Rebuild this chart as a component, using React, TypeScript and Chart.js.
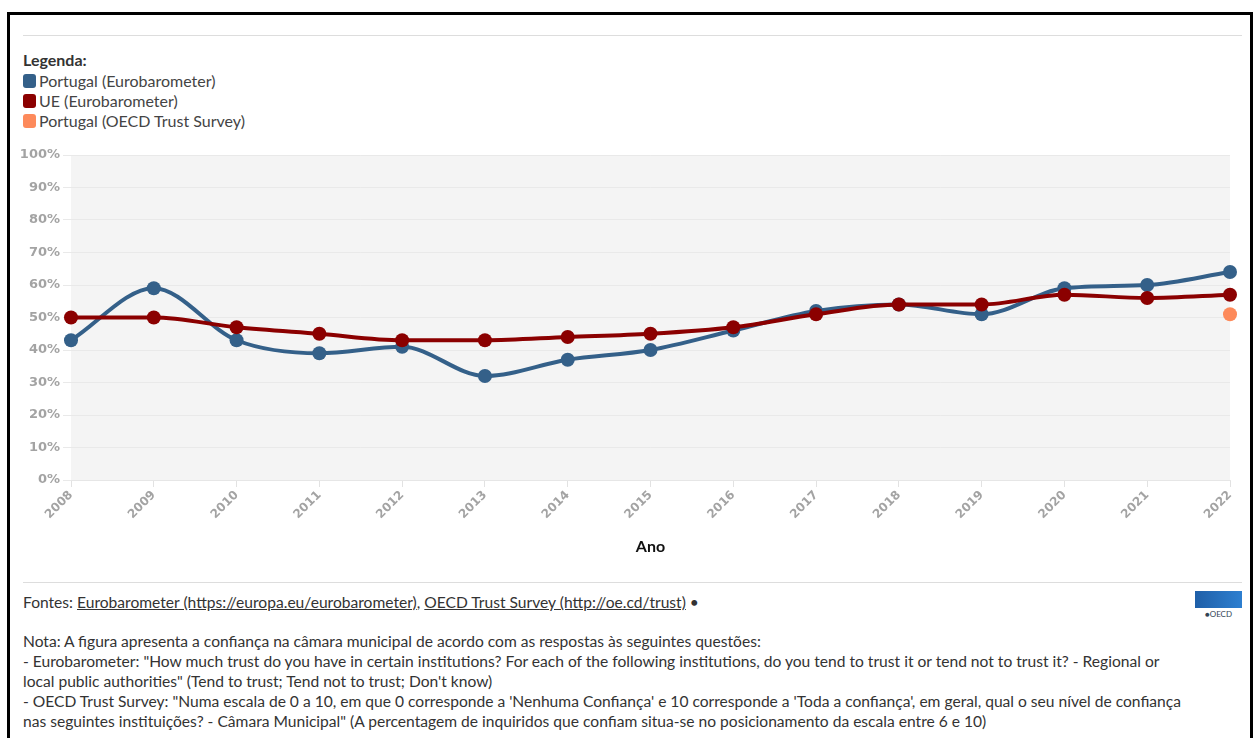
import React, { useEffect, useRef } from "react";
import { Chart, registerables } from "chart.js";

Chart.register(...registerables);

const years = ["2008","2009","2010","2011","2012","2013","2014","2015","2016","2017","2018","2019","2020","2021","2022"];
const portugalEuro = [43, 59, 43, 39, 41, 32, 37, 40, 46, 52, 54, 51, 59, 60, 64];
const ueEuro = [50, 50, 47, 45, 43, 43, 44, 45, 47, 51, 54, 54, 57, 56, 57];
const portugalOecd = [null, null, null, null, null, null, null, null, null, null, null, null, null, null, 51];
const yTicks = [0, 10, 20, 30, 40, 50, 60, 70, 80, 90, 100];

const BLUE = "#346089";
const RED = "#8b0000";
const ORANGE = "#fd8a5b";

const legendItems = [
  { label: "Portugal (Eurobarometer)", color: BLUE },
  { label: "UE (Eurobarometer)", color: RED },
  { label: "Portugal (OECD Trust Survey)", color: ORANGE },
];

const TEXT_FONT = "'Lato', 'Open Sans', sans-serif";

const plotBg = {
  id: "plotBg",
  beforeDraw(chart: any) {
    const { ctx, chartArea } = chart;
    ctx.save();
    ctx.fillStyle = "#f4f4f4";
    ctx.fillRect(chartArea.left, chartArea.top, chartArea.right - chartArea.left, chartArea.bottom - chartArea.top);
    ctx.restore();
  },
};

function LineChart() {
  const ref = useRef<HTMLCanvasElement | null>(null);
  useEffect(() => {
    if (!ref.current) return;
    const common = {
      borderWidth: 4,
      pointRadius: 7,
      pointHoverRadius: 7,
      pointBorderWidth: 0,
      cubicInterpolationMode: "monotone" as const,
      fill: false,
    };
    const chart = new Chart(ref.current, {
      type: "line",
      data: {
        labels: years,
        datasets: [
          { ...common, label: "UE (Eurobarometer)", data: ueEuro, borderColor: RED, backgroundColor: RED, pointBackgroundColor: RED, order: 1 },
          { ...common, label: "Portugal (Eurobarometer)", data: portugalEuro, borderColor: BLUE, backgroundColor: BLUE, pointBackgroundColor: BLUE, order: 2 },
          { ...common, label: "Portugal (OECD Trust Survey)", data: portugalOecd, borderColor: ORANGE, backgroundColor: ORANGE, pointBackgroundColor: ORANGE, order: 0 },
        ],
      },
      options: {
        animation: false,
        responsive: false,
        maintainAspectRatio: false,
        layout: { padding: { top: 15, right: 20, left: 0, bottom: 0 } },
        plugins: { legend: { display: false }, tooltip: { enabled: false } },
        scales: {
          x: {
            grid: { drawOnChartArea: false, drawTicks: true, tickLength: 7, color: "#e2e2e2" },
            border: { display: true, color: "#e6e6e6" },
            ticks: {
              autoSkip: false,
              maxRotation: 45,
              minRotation: 45,
              color: "#a3a3a3",
              font: { family: "'DejaVu Sans', sans-serif", weight: "bold", size: 12 },
              padding: 1,
            },
            title: {
              display: true,
              text: "Ano",
              color: "#111",
              font: { family: TEXT_FONT, weight: "bold", size: 16 },
              padding: { top: 4, bottom: 14 },
            },
            afterFit: (scale: any) => { scale.height = 90; },
          },
          y: {
            min: 0,
            max: 100,
            afterBuildTicks: (scale: any) => { scale.ticks = yTicks.map((v) => ({ value: v })); },
            grid: { color: "#e9e9e9", tickLength: 8, lineWidth: 1 },
            border: { display: false },
            ticks: {
              color: "#a3a3a3",
              padding: 3,
              font: { family: "'DejaVu Sans', sans-serif", weight: "bold", size: 13 },
              callback: (v: any) => v + "%",
            },
            afterFit: (scale: any) => { scale.width = 61; },
          },
        },
      },
      plugins: [plotBg],
    });
    return () => chart.destroy();
  }, []);
  return <canvas ref={ref} width={1240} height={430} style={{ position: "absolute", left: 10, top: 140, width: 1240, height: 430 }} />;
}

export default function App() {
  const txt: React.CSSProperties = { fontFamily: TEXT_FONT, fontSize: 15.6, color: "#333", whiteSpace: "nowrap" };
  return (
    <div style={{ position: "absolute", left: 0, top: 0, width: 1255, height: 738, overflow: "hidden", background: "#fff" }}>
      <div style={{ position: "absolute", left: 7, top: 12, width: 1240, height: 800, border: "3px solid #000" }} />
      <div style={{ position: "absolute", left: 23, top: 35, width: 1219, height: 1, background: "#dddddd" }} />
      <div style={{ position: "absolute", left: 23, top: 50, ...txt, fontSize: 16, lineHeight: "20px", color: "#444" }}>
        <div style={{ fontWeight: "bold", color: "#333", marginBottom: 1 }}>Legenda:</div>
        {legendItems.map((it) => (
          <div key={it.label} style={{ display: "flex", alignItems: "center" }}>
            <span style={{ display: "inline-block", width: 13, height: 14, borderRadius: 3, background: it.color, marginRight: 3 }} />
            <span>{it.label}</span>
          </div>
        ))}
      </div>
      <LineChart />
      <div style={{ position: "absolute", left: 23, top: 582, width: 1219, height: 1, background: "#dddddd" }} />
      <div style={{ position: "absolute", left: 23, top: 592, ...txt, lineHeight: "20px" }}>
        Fontes: <span style={{ textDecoration: "underline" }}>Eurobarometer (https://europa.eu/eurobarometer)</span>, <span style={{ textDecoration: "underline" }}>OECD Trust Survey (http://oe.cd/trust)</span> •
      </div>
      <div style={{ position: "absolute", left: 23, top: 631, ...txt, lineHeight: "20px" }}>
        <div>Nota: A figura apresenta a confiança na câmara municipal de acordo com as respostas às seguintes questões:</div>
        <div>- Eurobarometer: "How much trust do you have in certain institutions? For each of the following institutions, do you tend to trust it or tend not to trust it? - Regional or</div>
        <div>local public authorities" (Tend to trust; Tend not to trust; Don't know)</div>
        <div>- OECD Trust Survey: "Numa escala de 0 a 10, em que 0 corresponde a 'Nenhuma Confiança' e 10 corresponde a 'Toda a confiança', em geral, qual o seu nível de confiança</div>
        <div>nas seguintes instituições? - Câmara Municipal" (A percentagem de inquiridos que confiam situa-se no posicionamento da escala entre 6 e 10)</div>
      </div>
      <div style={{ position: "absolute", left: 1195, top: 591, width: 47, height: 17, background: "linear-gradient(90deg, #1f5fa8, #2d7fd0)" }} />
      <div style={{ position: "absolute", left: 1195, top: 608, width: 47, height: 12, fontFamily: TEXT_FONT, fontSize: 8, color: "#345", textAlign: "center", lineHeight: "12px" }}>●OECD</div>
    </div>
  );
}
